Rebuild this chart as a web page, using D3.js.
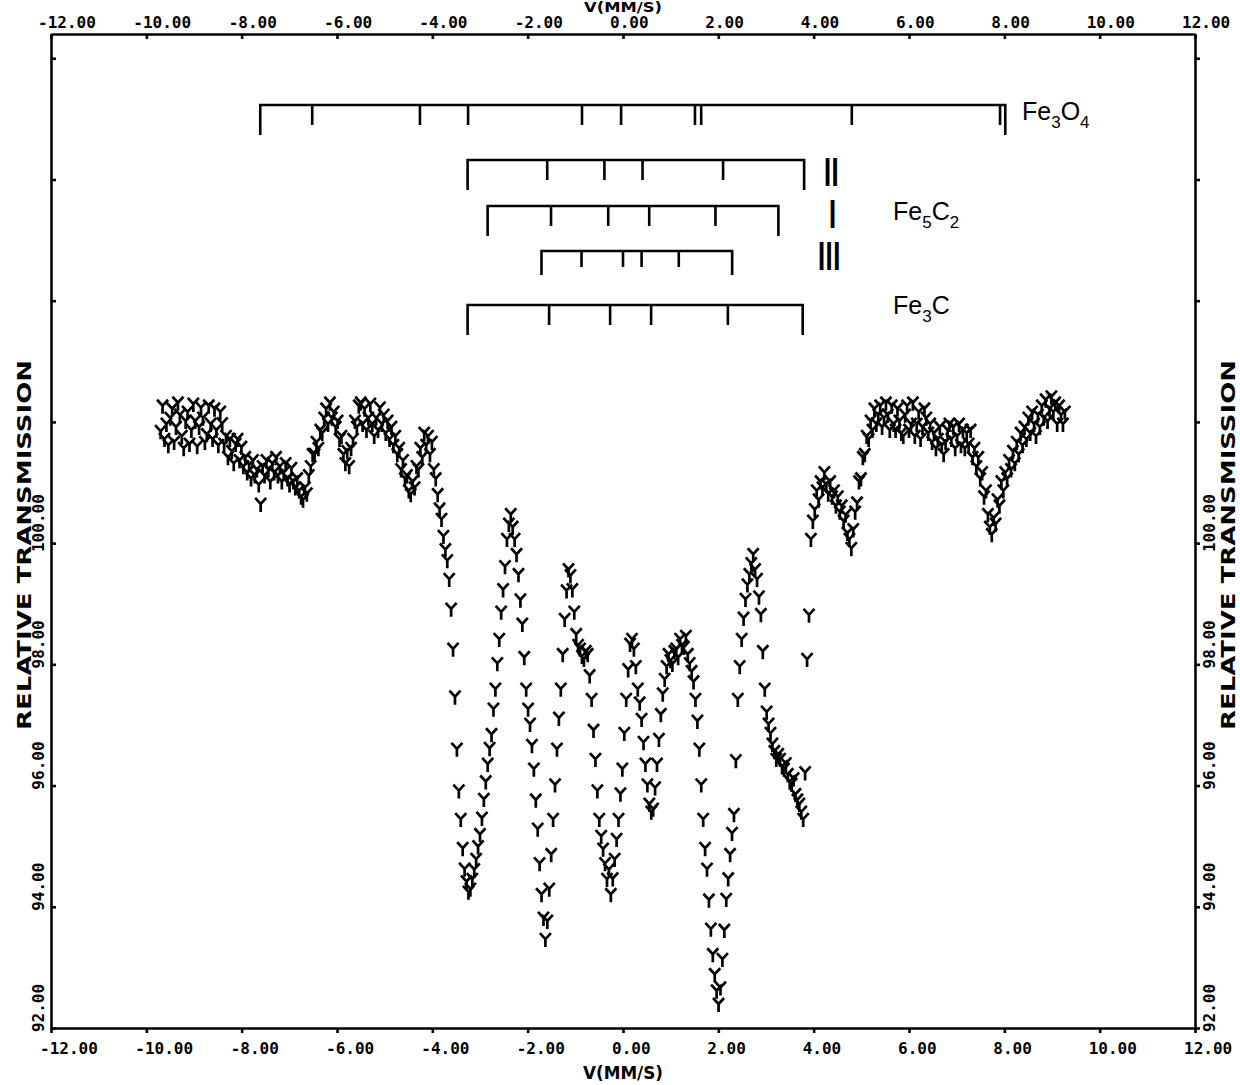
<!DOCTYPE html>
<html>
<head>
<meta charset="utf-8">
<script src="https://cdn.jsdelivr.net/npm/d3@7"></script>
<style>
  body { margin: 0; background: #fff; }
  svg { display: block; }
  .axis path, .axis line { stroke: #000; stroke-width: 2.6; }
  .lbl { font-family: "DejaVu Sans Mono", monospace; font-weight: bold; font-size: 16px; fill: #000; }
  .title { font-family: "DejaVu Sans", sans-serif; font-weight: bold; font-size: 19px; fill: #000; }
  .phase { font-family: "Liberation Sans", Arial, sans-serif; font-size: 25px; fill: #000; }
</style>
</head>
<body>
<script>
// velocity ticks (mm/s) and transmission ticks (%)
var velocityTicks = [-12, -10, -8, -6, -4, -2, 0, 2, 4, 6, 8, 10, 12];
var transmissionTicks = [92, 94, 96, 98, 100, 102, 104, 106, 108];
var labelledTransmission = [92, 94, 96, 98, 100];

// channel velocities run linearly from first to last channel
var firstVelocity = -9.70;
var lastVelocity = 9.27;

// relative transmission per channel
var transmission = [
  101.83, 102.25, 101.70, 101.95, 101.60, 102.05, 102.20, 101.65, 101.90, 102.30, 102.10, 101.75, 101.55, 102.00, 102.15, 101.62, 101.85, 102.28, 102.00, 101.58,
  101.90, 102.22, 102.05, 101.65, 101.78, 102.25, 101.95, 101.70, 102.20, 101.85, 101.60, 102.15, 101.96, 101.62, 101.75, 101.40, 101.70, 101.50, 101.30, 101.62,
  101.70, 101.35, 101.57, 101.25, 101.40, 101.15, 101.28, 101.05, 101.35, 101.10, 101.20, 100.95, 100.63, 101.25, 101.10, 101.35, 101.20, 101.00, 101.30, 101.15,
  101.40, 101.10, 101.25, 101.00, 101.15, 101.30, 101.05, 100.95, 101.22, 101.00, 100.90, 101.05, 100.85, 100.75, 100.70, 100.90, 100.80, 101.10, 101.25, 101.45,
  101.45, 101.65, 101.55, 101.85, 101.80, 102.05, 102.20, 101.95, 102.30, 102.05, 102.15, 101.90, 102.00, 101.70, 101.75, 101.45, 101.30, 101.50, 101.25, 101.55,
  101.70, 102.00, 101.90, 102.25, 102.30, 101.95, 102.20, 101.85, 102.05, 102.28, 101.95, 101.75, 102.05, 101.85, 102.22, 101.95, 102.10, 101.80, 102.00, 101.70,
  101.90, 101.60, 101.75, 101.45, 101.55, 101.20, 101.35, 101.05, 101.10, 100.85, 100.79, 101.00, 100.90, 101.25, 101.20, 101.55, 101.40, 101.80, 101.60, 101.75,
  101.45, 101.65, 101.20, 101.05, 100.79, 100.55, 100.38, 100.10, 99.88, 99.70, 99.39, 98.90, 98.24, 97.45, 96.59, 95.90, 95.43, 94.95, 94.61, 94.40,
  94.23, 94.28, 94.44, 94.60, 94.77, 94.98, 95.18, 95.45, 95.76, 96.05, 96.34, 96.60, 96.83, 97.25, 97.58, 98.00, 98.40, 98.85, 99.22, 99.60,
  100.05, 100.30, 100.46, 100.25, 100.05, 99.80, 99.47, 99.05, 98.65, 98.10, 97.58, 97.25, 97.00, 96.65, 96.26, 95.75, 95.27, 94.70, 94.19, 93.80,
  93.45, 93.75, 94.28, 94.85, 95.43, 96.00, 96.59, 97.10, 97.58, 98.15, 98.73, 99.20, 99.55, 99.45, 99.22, 98.85, 98.48, 98.30, 98.24, 98.12,
  98.07, 98.20, 98.15, 97.80, 97.41, 96.90, 96.42, 95.90, 95.43, 95.15, 94.94, 94.70, 94.44, 94.60, 94.19, 94.45, 94.77, 95.10, 95.43, 95.85,
  96.26, 96.85, 97.41, 97.90, 98.32, 98.40, 98.24, 97.95, 97.58, 97.35, 97.08, 96.70, 96.34, 96.00, 95.68, 95.55, 95.60, 95.95, 96.34, 96.75,
  97.16, 97.50, 97.74, 97.95, 98.15, 98.05, 97.99, 98.20, 98.24, 98.10, 98.40, 98.30, 98.27, 98.45, 98.15, 98.00, 97.87, 97.70, 97.41, 97.05,
  96.59, 96.00, 95.43, 94.95, 94.61, 94.10, 93.62, 93.20, 92.87, 92.60, 92.38, 92.65, 93.12, 93.60, 94.11, 94.45, 94.85, 95.20, 95.51, 96.40,
  97.41, 97.95, 98.40, 98.75, 99.06, 99.30, 99.47, 99.65, 99.80, 99.55, 99.39, 99.10, 98.81, 98.20, 97.58, 97.20, 97.00, 96.85, 96.67, 96.55,
  96.42, 96.50, 96.42, 96.30, 96.26, 96.35, 96.17, 96.05, 96.01, 96.10, 95.84, 95.75, 95.68, 95.55, 95.43, 96.20, 98.07, 98.80, 100.05, 100.35,
  100.54, 100.85, 100.70, 101.00, 100.90, 101.15, 100.95, 100.80, 101.00, 100.75, 100.85, 100.60, 100.75, 100.50, 100.60, 100.35, 100.45, 100.15, 100.05, 99.90,
  100.21, 100.50, 100.65, 101.00, 101.05, 101.40, 101.45, 101.75, 101.70, 102.00, 101.85, 102.20, 101.95, 102.10, 102.25, 101.90, 102.05, 102.30, 102.10, 101.85,
  102.25, 101.95, 101.85, 102.20, 102.00, 101.80, 101.75, 102.10, 102.25, 101.85, 101.95, 102.30, 101.75, 101.95, 102.15, 101.70, 101.90, 102.20, 102.05, 101.80,
  101.95, 101.65, 101.80, 101.55, 101.70, 101.90, 101.60, 101.45, 101.65, 101.85, 101.95, 101.70, 101.90, 101.55, 101.75, 101.95, 101.60, 101.85, 101.55, 101.80,
  101.62, 101.85, 101.40, 101.55, 101.25, 101.40, 101.05, 101.15, 100.75, 100.85, 100.46, 100.25, 100.13, 100.40, 100.30, 100.70, 100.60, 101.00, 100.85, 101.15,
  101.05, 101.35, 101.20, 101.50, 101.30, 101.65, 101.45, 101.80, 101.60, 101.90, 101.70, 102.05, 101.80, 102.15, 101.95, 101.75, 102.10, 101.90, 102.25, 102.05,
  102.35, 102.00, 102.20, 102.40, 102.15, 102.30, 101.95, 102.25, 102.10, 101.95, 102.15
];

// stick diagrams: line positions (mm/s)
var fe3o4Lines = [-7.61, -6.52, -4.26, -3.25, -0.86, -0.04, 1.51, 1.64, 4.80, 7.91, 8.02];
var fe5c2IILines = [-3.26, -1.59, -0.39, 0.41, 2.10, 3.80];
var fe5c2ILines = [-2.84, -1.51, -0.31, 0.55, 1.94, 3.26];
var fe5c2IIILines = [-1.71, -0.87, 0.00, 0.39, 1.17, 2.29];
var fe3cLines = [-3.26, -1.55, -0.27, 0.59, 2.20, 3.77];

var width = 1240;
var height = 1085;

var x = d3.scaleLinear().domain([-12, 12]).range([51, 1195]);
var y = d3.scaleLinear().domain([92, 108.4]).range([1028, 34]);
var channel = d3.scaleLinear()
  .domain([0, transmission.length - 1])
  .range([firstVelocity, lastVelocity]);

var fmt = d3.formatLocale({
  decimal: '.', thousands: ',', grouping: [3], currency: ['', ''], minus: '-'
}).format('.2f');

var svg = d3.select('body').append('svg')
  .attr('width', width)
  .attr('height', height);

// frame axes
svg.append('g').attr('class', 'axis')
  .attr('transform', 'translate(0,' + y.range()[1] + ')')
  .call(d3.axisTop(x).tickValues(velocityTicks).tickSizeInner(-5).tickSizeOuter(0).tickFormat(''));
svg.append('g').attr('class', 'axis')
  .attr('transform', 'translate(0,' + y.range()[0] + ')')
  .call(d3.axisBottom(x).tickValues(velocityTicks).tickSizeInner(5).tickSizeOuter(0).tickFormat(''));
svg.append('g').attr('class', 'axis')
  .attr('transform', 'translate(' + x.range()[0] + ',0)')
  .call(d3.axisLeft(y).tickValues(transmissionTicks).tickSizeInner(-5).tickSizeOuter(0).tickFormat(''));
svg.append('g').attr('class', 'axis')
  .attr('transform', 'translate(' + x.range()[1] + ',0)')
  .call(d3.axisRight(y).tickValues(transmissionTicks).tickSizeInner(5).tickSizeOuter(0).tickFormat(''));
svg.selectAll('.axis text').remove();

// velocity labels, top and bottom
svg.append('g').selectAll('text').data(velocityTicks).enter().append('text')
  .attr('class', 'lbl')
  .attr('x', function(d) { return x(d) - 13; })
  .attr('y', 28)
  .text(fmt);
svg.append('g').selectAll('text').data(velocityTicks).enter().append('text')
  .attr('class', 'lbl')
  .attr('x', function(d) { return x(d) - 11; })
  .attr('y', 1054)
  .text(fmt);

svg.append('text').attr('class', 'title')
  .attr('x', x(0)).attr('y', 12)
  .attr('text-anchor', 'middle')
  .style('font-size', '14px')
  .attr('textLength', 78).attr('lengthAdjust', 'spacingAndGlyphs')
  .text('V(MM/S)');
svg.append('text').attr('class', 'title')
  .attr('x', x(0)).attr('y', 1079)
  .attr('text-anchor', 'middle')
  .style('font-size', '17px')
  .attr('textLength', 80).attr('lengthAdjust', 'spacingAndGlyphs')
  .text('V(MM/S)');

// transmission labels, rotated, both sides
[38, 1209].forEach(function(cx) {
  svg.append('g').selectAll('text').data(labelledTransmission).enter().append('text')
    .attr('class', 'lbl')
    .attr('text-anchor', 'middle')
    .attr('transform', function(d) {
      return 'translate(' + (cx + 6) + ',' + (y(d) - 20) + ') rotate(-90)';
    })
    .text(fmt);
});
[24, 1228].forEach(function(cx) {
  svg.append('text').attr('class', 'title')
    .attr('text-anchor', 'middle')
    .attr('transform', 'translate(' + (cx + 7) + ',545) rotate(-90)')
    .attr('textLength', 370).attr('lengthAdjust', 'spacingAndGlyphs')
    .text('RELATIVE TRANSMISSION');
});

// stick diagrams
function sticks(lines, y0, endLen, innerLen) {
  var p = d3.path();
  var a = x(lines[0]);
  var b = x(lines[lines.length - 1]);
  p.moveTo(a, y0 + endLen);
  p.lineTo(a, y0);
  p.lineTo(b, y0);
  p.lineTo(b, y0 + endLen);
  lines.slice(1, -1).forEach(function(v) {
    p.moveTo(x(v), y0);
    p.lineTo(x(v), y0 + innerLen);
  });
  svg.append('path')
    .attr('d', p.toString())
    .attr('fill', 'none')
    .attr('stroke', '#000')
    .attr('stroke-width', 2.6);
}
sticks(fe3o4Lines, 105, 30, 20);
sticks(fe5c2IILines, 160, 30, 20);
sticks(fe5c2ILines, 206, 30, 20);
sticks(fe5c2IIILines, 251, 24, 16);
sticks(fe3cLines, 305, 30, 20);

function phaseLabel(px, py, parts) {
  var t = svg.append('text').attr('class', 'phase').attr('x', px).attr('y', py);
  parts.forEach(function(p) {
    t.append('tspan')
      .attr('dy', p[1] ? 8 : (t.selectAll('tspan').size() ? -8 : 0))
      .style('font-size', p[1] ? '17px' : null)
      .text(p[0]);
  });
}
phaseLabel(1022, 128, [['Fe', 0], ['3', 1], ['O', 0], ['4', 1]]);
phaseLabel(893, 228, [['Fe', 0], ['5', 1], ['C', 0], ['2', 1]]);
phaseLabel(893, 322, [['Fe', 0], ['3', 1], ['C', 0]]);

[['II', 822, 186], ['I', 827, 228], ['III', 816, 270]].forEach(function(r) {
  svg.append('text').attr('class', 'phase')
    .attr('x', r[1]).attr('y', r[2])
    .style('font-size', '40px')
    .style('letter-spacing', '-3.5px')
    .text(r[0]);
});

// spectrum points drawn as plotter "Y" symbols
var ySymbol = 'M-5.5,-7L0,-1L5.5,-7M0,-1V7';
svg.append('g').selectAll('path').data(transmission).enter().append('path')
  .attr('d', ySymbol)
  .attr('transform', function(d, i) {
    return 'translate(' + x(channel(i)) + ',' + y(d) + ')';
  })
  .attr('fill', 'none')
  .attr('stroke', '#000')
  .attr('stroke-width', 2.7);
</script>
</body>
</html>
